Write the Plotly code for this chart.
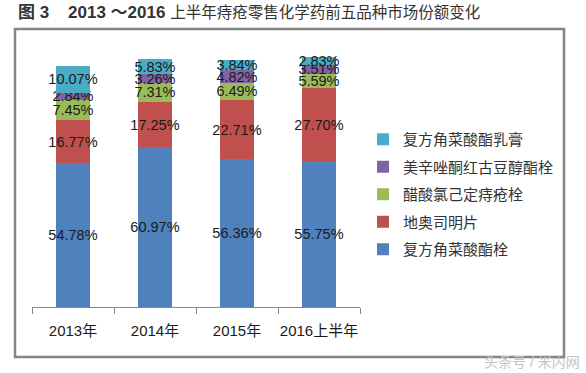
import plotly.graph_objects as go

categories = ["2013年", "2014年", "2015年", "2016上半年"]
series_names = ["复方角菜酸酯栓", "地奥司明片", "醋酸氯己定痔疮栓", "美辛唑酮红古豆醇酯栓", "复方角菜酸酯乳膏"]
s_fufang_shuan = [54.78, 60.97, 56.36, 55.75]
s_diaosiming = [16.77, 17.25, 22.71, 27.70]
s_cusuan = [7.45, 7.31, 6.49, 5.59]
s_meixin = [2.84, 3.26, 4.82, 3.51]
s_fufang_rugao = [10.07, 5.83, 3.84, 2.83]
series_values = [s_fufang_shuan, s_diaosiming, s_cusuan, s_meixin, s_fufang_rugao]
colors = ["#4F81BD", "#C0504D", "#9BBB59", "#8064A2", "#4BACC6"]

FONT = "Arial, 'Liberation Sans', 'Noto Sans CJK SC', sans-serif"

fig = go.Figure()
n = len(series_names)
for i, (name, vals, col) in enumerate(zip(series_names, series_values, colors)):
    fig.add_trace(go.Bar(
        x=categories, y=vals, name=name, marker=dict(color=col, line=dict(width=0)),
        text=[f"{v:.2f}%" for v in vals], textposition="inside", insidetextanchor="middle",
        textangle=0, insidetextfont=dict(size=14.5, color="#1a1a1a", family=FONT),
        legendgroup=name, legendrank=n - i,
    ))

W, H = 586, 373
L, R, T, B = 32, 226, 45, 66
pw, ph = W - L - R, H - T - B

def px2paper_x(px):
    return (px - L) / pw

def px2paper_y(py):
    return (H - B - py) / ph

fig.update_layout(
    width=W, height=H,
    margin=dict(l=L, r=R, t=T, b=B, pad=0, autoexpand=False),
    barmode="stack", bargap=0.585,
    plot_bgcolor="white", paper_bgcolor="white",
    font=dict(family=FONT, color="#222"),
    uniformtext=dict(minsize=14.5, mode="show"),
    title=dict(
        text=("<b>图 3\u00a0\u00a0\u00a0 2013 ～2016</b> "
              "<span style='font-size:15.5px'>上半年痔疮零售化学药前五品种市场份额变化</span>"),
        x=18 / W, xanchor="left", y=1 - 12 / H, yanchor="middle",
        font=dict(size=17, color="#333", family=FONT),
    ),
    xaxis=dict(
        showline=True, linecolor="#868686", linewidth=1,
        ticks="outside", tickson="boundaries", ticklen=6, tickcolor="#868686",
        tickangle=0, automargin=False, ticklabelstandoff=10,
        tickfont=dict(size=15, color="#1a1a1a"), showgrid=False,
    ),
    yaxis=dict(range=[0, 100], visible=False),
    legend=dict(
        x=px2paper_x(363), xanchor="left", y=px2paper_y(123), yanchor="top",
        traceorder="grouped", tracegroupgap=5,
        font=dict(size=15, color="#333", family=FONT), itemwidth=30,
        bgcolor="rgba(0,0,0,0)",
    ),
    shapes=[dict(
        type="rect", xref="paper", yref="paper",
        x0=px2paper_x(15), x1=px2paper_x(564), y0=px2paper_y(357), y1=px2paper_y(29),
        line=dict(color="#858585", width=2.5), fillcolor="rgba(0,0,0,0)", layer="below",
    )],
    annotations=[dict(
        text="头条号 / 米内网", xref="paper", yref="paper",
        x=px2paper_x(582), y=px2paper_y(362), xanchor="right", yanchor="middle",
        showarrow=False, font=dict(size=14, color="#c4c4c4", family=FONT),
    )],
)

fig.write_html("out.html", config={"displayModeBar": False},
               post_script="document.body.style.margin='0';document.body.style.padding='0';")
